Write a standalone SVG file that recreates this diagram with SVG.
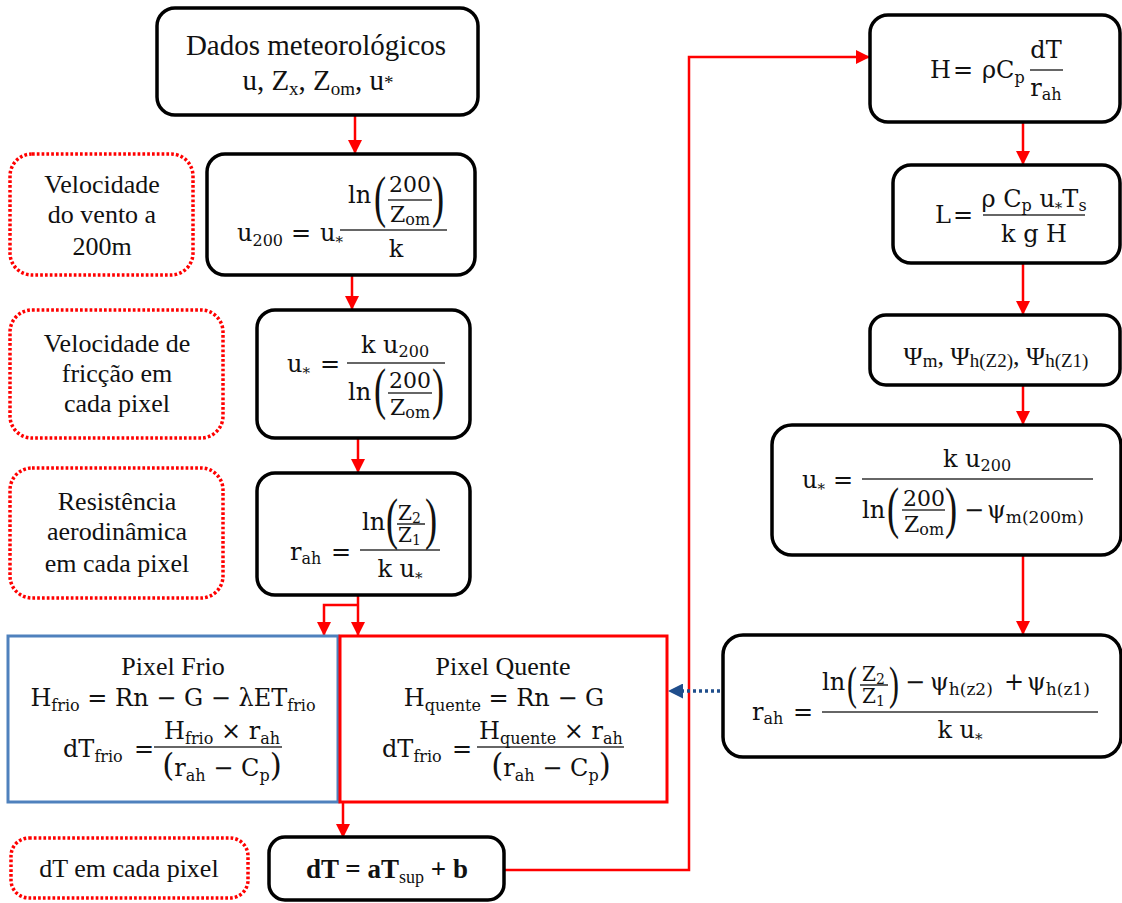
<svg xmlns="http://www.w3.org/2000/svg" width="1122" height="903" viewBox="0 0 1122 903">
  <defs>
    <style>
      .box{fill:#fff;stroke:#000;stroke-width:3.5}
      .note{fill:none;stroke:#ff0000;stroke-width:3.5;stroke-dasharray:2.7 2.1}
      .conn{fill:none;stroke:#ff0000;stroke-width:2.5}
      .fr{stroke:#333;stroke-width:1.6}
      .t{font-family:"Liberation Serif","Times New Roman",serif;font-size:26px;fill:#111}
      .m{font-family:"DejaVu Serif","Liberation Serif",serif;font-size:24px;fill:#111}
      .s{font-size:16px}
      .st{font-size:15px}
      .n22{font-size:22px}
      .n20{font-size:20px}
      .pr{font-family:"Liberation Serif","Times New Roman",serif;font-size:56px;fill:#111}
      .pr46{font-family:"Liberation Serif","Times New Roman",serif;font-size:46px;fill:#111}
    </style>
    <marker id="arR" viewBox="0 0 10 10" refX="10" refY="5" markerWidth="14" markerHeight="14" markerUnits="userSpaceOnUse" orient="auto">
      <path d="M0,0 L10,5 L0,10 z" fill="#ff0000"/>
    </marker>
    <marker id="arB" viewBox="0 0 10 10" refX="10" refY="5" markerWidth="15" markerHeight="15" markerUnits="userSpaceOnUse" orient="auto">
      <path d="M0,0 L10,5 L0,10 z" fill="#1f4e8c"/>
    </marker>
  </defs>
  <rect width="1122" height="903" fill="#fff"/>

  <!-- connectors -->
  <g id="connectors">
    <path class="conn" d="M355,115 V154" marker-end="url(#arR)"/>
    <path class="conn" d="M352,275 V310" marker-end="url(#arR)"/>
    <path class="conn" d="M358,438 V473" marker-end="url(#arR)"/>
    <path class="conn" d="M358,595 V636" marker-end="url(#arR)"/>
    <path class="conn" d="M358,605 H324 V636" marker-end="url(#arR)"/>
    <path class="conn" d="M343,802 V838" marker-end="url(#arR)"/>
    <path class="conn" d="M504,870 H689 V57 H870" marker-end="url(#arR)"/>
    <path class="conn" d="M1023,122 V165" marker-end="url(#arR)"/>
    <path class="conn" d="M1023,263 V315" marker-end="url(#arR)"/>
    <path class="conn" d="M1023,385 V425" marker-end="url(#arR)"/>
    <path class="conn" d="M1023,555 V635" marker-end="url(#arR)"/>
    <path d="M738,691 H682" fill="none" stroke="#1f4e8c" stroke-width="3.5" stroke-dasharray="3 3"/>
    <path d="M683,691 H668" fill="none" stroke="none" marker-end="url(#arB)"/>
  </g>

  <!-- input data -->
  <g id="n-dados">
    <rect class="box" x="157" y="8" width="321" height="107" rx="18"/>
    <text class="t" x="316" y="55" text-anchor="middle" style="font-size:29px">Dados meteorológicos</text>
    <text class="t" x="318" y="90" text-anchor="middle" style="font-size:29px">u, Z<tspan style="font-size:19px" dy="5">x</tspan><tspan dy="-5">, Z</tspan><tspan style="font-size:19px" dy="5">om</tspan><tspan dy="-5">, u</tspan><tspan style="font-size:19px" dy="-1">*</tspan></text>
  </g>

  <!-- notes -->
  <g id="note-vento">
    <rect class="note" x="10" y="154" width="183" height="121" rx="22"/>
    <text class="t" x="102" y="193" text-anchor="middle">Velocidade</text>
    <text class="t" x="102" y="223" text-anchor="middle">do vento a</text>
    <text class="t" x="102" y="255" text-anchor="middle">200m</text>
  </g>
  <g id="note-friccao">
    <rect class="note" x="10" y="310" width="213" height="128" rx="22"/>
    <text class="t" x="117" y="352" text-anchor="middle">Velocidade de</text>
    <text class="t" x="117" y="382" text-anchor="middle">fricção em</text>
    <text class="t" x="117" y="412" text-anchor="middle">cada pixel</text>
  </g>
  <g id="note-resistencia">
    <rect class="note" x="10" y="468" width="213" height="130" rx="22"/>
    <text class="t" x="117" y="510" text-anchor="middle">Resistência</text>
    <text class="t" x="117" y="540" text-anchor="middle">aerodinâmica</text>
    <text class="t" x="117" y="572" text-anchor="middle">em cada pixel</text>
  </g>
  <g id="note-dt">
    <rect class="note" x="11" y="838" width="237" height="60" rx="18"/>
    <text class="t" x="129" y="877" text-anchor="middle">dT em cada pixel</text>
  </g>

  <!-- wind speed at 200 m -->
  <g id="n-u200">
    <rect class="box" x="207" y="154" width="268" height="121" rx="18"/>
    <text class="m" x="237" y="241">u<tspan class="s" dy="5">200</tspan></text>
    <text class="m" x="301" y="241" text-anchor="middle">=</text>
    <text class="m" x="320" y="241">u<tspan class="st" dy="6">*</tspan></text>
    <line class="fr" x1="340" y1="230" x2="447" y2="230"/>
    <text class="m" x="348" y="203">ln</text>
    <text class="pr" transform="translate(374,216) scale(0.65,1)">(</text>
    <text class="m n22" x="410" y="192" text-anchor="middle">200</text>
    <line class="fr" x1="388" y1="200" x2="432" y2="200"/>
    <text class="m n22" x="390" y="222">Z<tspan class="s" dy="3">om</tspan></text>
    <text class="pr" transform="translate(432,216) scale(0.65,1)">)</text>
    <text class="m" x="396" y="257" text-anchor="middle">k</text>
  </g>

  <!-- friction velocity -->
  <g id="n-ustar">
    <rect class="box" x="257" y="310" width="213" height="128" rx="18"/>
    <text class="m" x="287" y="372">u<tspan class="st" dy="6">*</tspan></text>
    <text class="m" x="330" y="372" text-anchor="middle">=</text>
    <line class="fr" x1="347" y1="363" x2="445" y2="363"/>
    <text class="m" x="395" y="353" text-anchor="middle">k u<tspan class="s" dy="4">200</tspan></text>
    <text class="m" x="348" y="400">ln</text>
    <text class="pr" transform="translate(374,408) scale(0.65,1)">(</text>
    <text class="m n22" x="410" y="388" text-anchor="middle">200</text>
    <line class="fr" x1="388" y1="393" x2="432" y2="393"/>
    <text class="m n22" x="390" y="415">Z<tspan class="s" dy="3">om</tspan></text>
    <text class="pr" transform="translate(432,408) scale(0.65,1)">)</text>
  </g>

  <!-- aerodynamic resistance -->
  <g id="n-rah">
    <rect class="box" x="257" y="473" width="213" height="122" rx="18"/>
    <text class="m" x="290" y="560">r<tspan class="s" dy="4">ah</tspan></text>
    <text class="m" x="341" y="560" text-anchor="middle">=</text>
    <line class="fr" x1="360" y1="550" x2="440" y2="550"/>
    <text class="m" x="362" y="530">ln</text>
    <text class="pr" transform="translate(386,538) scale(0.65,1)">(</text>
    <text class="m n20" x="398" y="520">Z<tspan style="font-size:14px" dy="3">2</tspan></text>
    <line class="fr" x1="397" y1="524" x2="425" y2="524"/>
    <text class="m n20" x="398" y="542">Z<tspan style="font-size:14px" dy="3">1</tspan></text>
    <text class="pr" transform="translate(425,538) scale(0.65,1)">)</text>
    <text class="m" x="400" y="577" text-anchor="middle">k u<tspan class="st" dy="6">*</tspan></text>
  </g>

  <!-- cold pixel -->
  <g id="n-frio">
    <rect x="8" y="636" width="330" height="166" fill="#fff" stroke="#4f81bd" stroke-width="3"/>
    <text class="t" x="173" y="675" text-anchor="middle">Pixel Frio</text>
    <text class="m" x="173" y="706" text-anchor="middle">H<tspan class="s" dy="5">frio</tspan><tspan dy="-5"> = Rn − G − λET</tspan><tspan class="s" dy="5">frio</tspan></text>
    <text class="m" x="63" y="757">dT<tspan class="s" dy="5">frio</tspan></text>
    <text class="m" x="144" y="757" text-anchor="middle">=</text>
    <line class="fr" x1="154" y1="747" x2="282" y2="747"/>
    <text class="m" x="222" y="739" text-anchor="middle">H<tspan class="s" dy="5">frio</tspan><tspan dy="-5"> × r</tspan><tspan class="s" dy="5">ah</tspan></text>
    <text class="m" x="222" y="776" text-anchor="middle"><tspan style="font-size:31px">(</tspan>r<tspan class="s" dy="5">ah</tspan><tspan dy="-5"> − C</tspan><tspan class="s" dy="5">p</tspan><tspan dy="-5" style="font-size:31px">)</tspan></text>
  </g>

  <!-- hot pixel -->
  <g id="n-quente">
    <rect x="340" y="636" width="327" height="166" fill="#fff" stroke="#ff0000" stroke-width="3"/>
    <text class="t" x="503" y="675" text-anchor="middle">Pixel Quente</text>
    <text class="m" x="504" y="706" text-anchor="middle">H<tspan class="s" dy="5">quente</tspan><tspan dy="-5"> = Rn − G</tspan></text>
    <text class="m" x="382" y="757">dT<tspan class="s" dy="5">frio</tspan></text>
    <text class="m" x="462" y="757" text-anchor="middle">=</text>
    <line class="fr" x1="477" y1="747" x2="624" y2="747"/>
    <text class="m" x="551" y="739" text-anchor="middle">H<tspan class="s" dy="5">quente</tspan><tspan dy="-5"> × r</tspan><tspan class="s" dy="5">ah</tspan></text>
    <text class="m" x="551" y="776" text-anchor="middle"><tspan style="font-size:31px">(</tspan>r<tspan class="s" dy="5">ah</tspan><tspan dy="-5"> − C</tspan><tspan class="s" dy="5">p</tspan><tspan dy="-5" style="font-size:31px">)</tspan></text>
  </g>

  <!-- linear relation dT -->
  <g id="n-dt">
    <rect class="box" x="269" y="837" width="235" height="63" rx="16"/>
    <text class="t" x="387" y="878" text-anchor="middle" style="font-size:27px;font-weight:bold">dT = aT<tspan style="font-size:18px;font-weight:normal" dy="5">sup</tspan><tspan dy="-5"> + b</tspan></text>
  </g>

  <!-- sensible heat -->
  <g id="n-H">
    <rect class="box" x="870" y="15" width="250" height="107" rx="18"/>
    <text class="m" x="930" y="78">H</text>
    <text class="m" x="963" y="78" text-anchor="middle">=</text>
    <text class="m" x="982" y="78">ρC<tspan class="s" dy="5">p</tspan></text>
    <line class="fr" x1="1030" y1="70" x2="1063" y2="70"/>
    <text class="m" x="1046" y="58" text-anchor="middle">dT</text>
    <text class="m" x="1046" y="96" text-anchor="middle">r<tspan class="s" dy="4">ah</tspan></text>
  </g>

  <!-- Monin-Obukhov length -->
  <g id="n-L">
    <rect class="box" x="893" y="165" width="227" height="98" rx="18"/>
    <text class="m" x="935" y="223">L</text>
    <text class="m" x="963" y="223" text-anchor="middle">=</text>
    <line class="fr" x1="983" y1="215" x2="1085" y2="215"/>
    <text class="m" x="1034" y="207" text-anchor="middle">ρ C<tspan class="s" dy="4">p</tspan><tspan dy="-4"> u</tspan><tspan class="st" dy="6">*</tspan><tspan dy="-6">T</tspan><tspan class="s" dy="4">s</tspan></text>
    <text class="m" x="1034" y="242" text-anchor="middle">k g H</text>
  </g>

  <!-- stability corrections -->
  <g id="n-psi">
    <rect class="box" x="870" y="315" width="250" height="70" rx="16"/>
    <text class="t" x="996" y="365" text-anchor="middle">Ψ<tspan style="font-size:19px" dy="2">m</tspan><tspan dy="-2">, Ψ</tspan><tspan style="font-size:19px" dy="2">h(Z2)</tspan><tspan dy="-2">, Ψ</tspan><tspan style="font-size:19px" dy="2">h(Z1)</tspan></text>
  </g>

  <!-- corrected friction velocity -->
  <g id="n-ustar2">
    <rect class="box" x="772" y="425" width="349" height="130" rx="20"/>
    <text class="m" x="802" y="488">u<tspan class="st" dy="6">*</tspan></text>
    <text class="m" x="843" y="488" text-anchor="middle">=</text>
    <line class="fr" x1="862" y1="479" x2="1093" y2="479"/>
    <text class="m" x="977" y="467" text-anchor="middle">k u<tspan class="s" dy="4">200</tspan></text>
    <text class="m" x="862" y="518">ln</text>
    <text class="pr" transform="translate(887,527) scale(0.65,1)">(</text>
    <text class="m n22" x="924" y="506" text-anchor="middle">200</text>
    <line class="fr" x1="902" y1="510" x2="945" y2="510"/>
    <text class="m n22" x="904" y="532">Z<tspan class="s" dy="3">om</tspan></text>
    <text class="pr" transform="translate(945,527) scale(0.65,1)">)</text>
    <text class="m" x="974" y="518" text-anchor="middle">−</text>
    <text class="m" x="987" y="518">ψ<tspan style="font-size:17px" dy="5">m(200m)</tspan></text>
  </g>

  <!-- corrected aerodynamic resistance -->
  <g id="n-rah2">
    <rect class="box" x="723" y="635" width="398" height="122" rx="20"/>
    <text class="m" x="752" y="720">r<tspan class="s" dy="4">ah</tspan></text>
    <text class="m" x="803" y="720" text-anchor="middle">=</text>
    <line class="fr" x1="822" y1="712" x2="1098" y2="712"/>
    <text class="m" x="822" y="690">ln</text>
    <text class="pr46" transform="translate(847,699) scale(0.65,1)">(</text>
    <text class="m n20" x="862" y="681">Z<tspan style="font-size:14px" dy="3">2</tspan></text>
    <line class="fr" x1="860" y1="685" x2="888" y2="685"/>
    <text class="m n20" x="862" y="703">Z<tspan style="font-size:14px" dy="3">1</tspan></text>
    <text class="pr46" transform="translate(889,699) scale(0.65,1)">)</text>
    <text class="m" x="915" y="690" text-anchor="middle">−</text>
    <text class="m" x="930" y="690">ψ<tspan style="font-size:17px" dy="5">h(z2)</tspan></text>
    <text class="m" x="1014" y="690" text-anchor="middle">+</text>
    <text class="m" x="1027" y="690">ψ<tspan style="font-size:17px" dy="5">h(z1)</tspan></text>
    <text class="m" x="960" y="738" text-anchor="middle">k u<tspan class="st" dy="6">*</tspan></text>
  </g>
</svg>
